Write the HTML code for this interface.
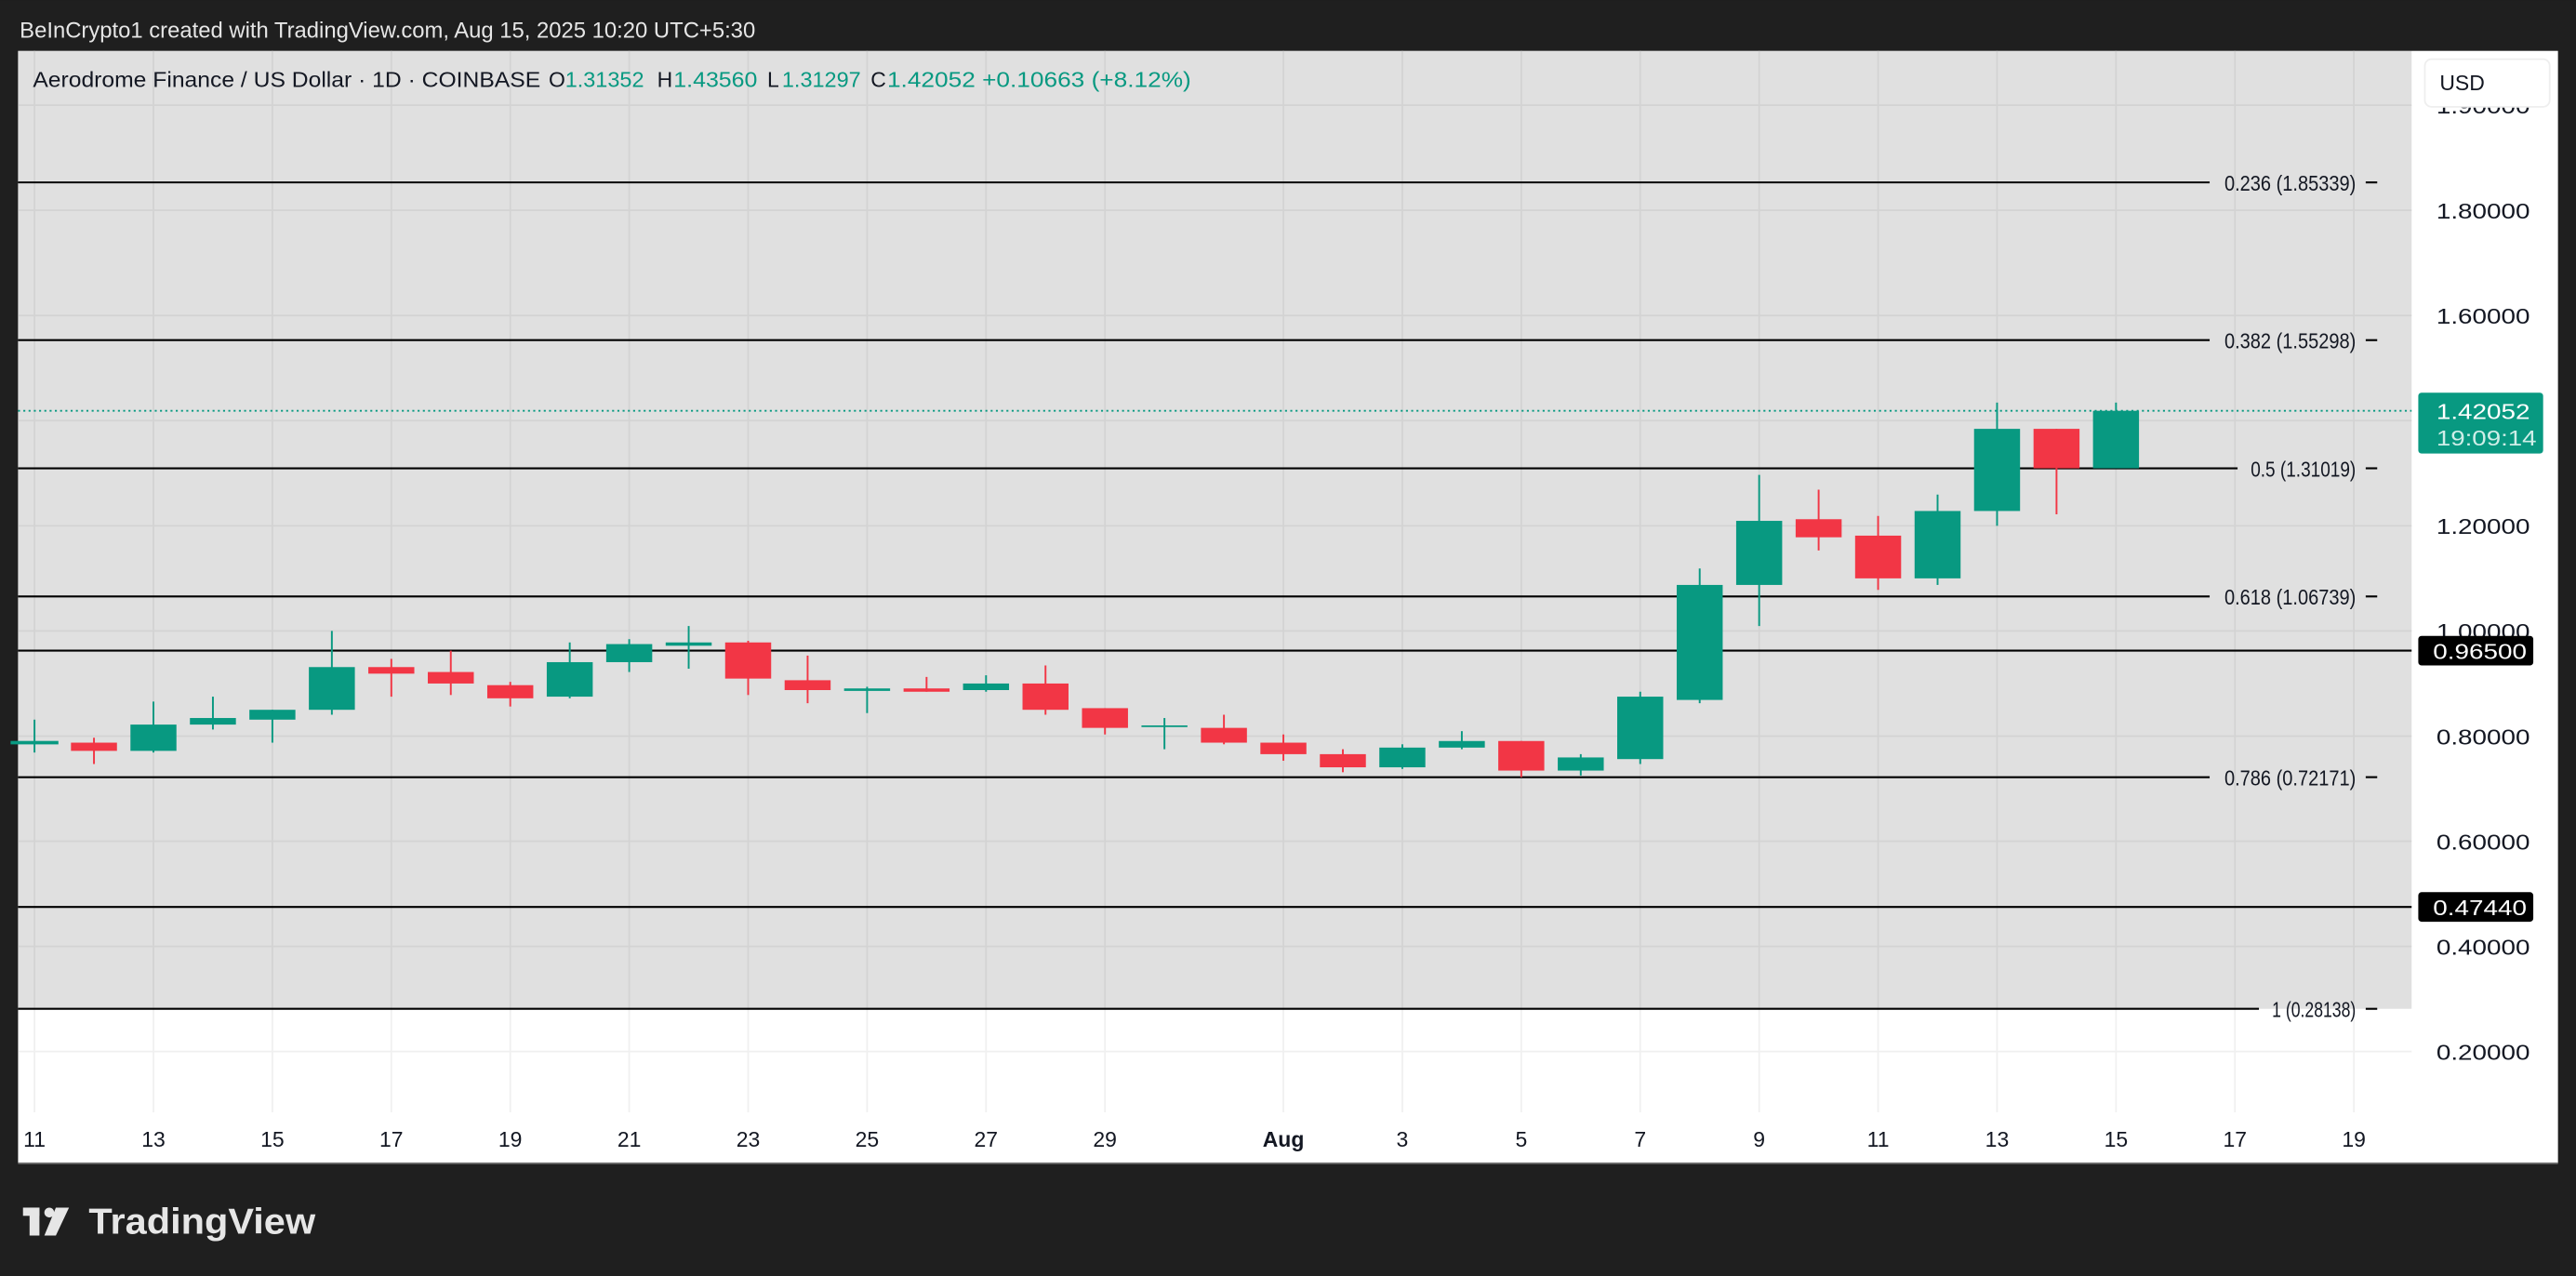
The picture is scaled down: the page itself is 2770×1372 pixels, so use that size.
<!DOCTYPE html>
<html><head><meta charset="utf-8"><style>
html,body{margin:0;padding:0;background:#1f1f1f;}
svg{display:block;}
text{font-family:"Liberation Sans",sans-serif;}
</style></head><body>
<svg width="2770" height="1372" viewBox="0 0 1568 776.6" xmlns="http://www.w3.org/2000/svg">
<rect x="0" y="0" width="1568" height="777" fill="#1f1f1f"/>
<text x="12" y="23" font-size="13.5" fill="#e6e6e6">BeInCrypto1 created with TradingView.com, Aug 15, 2025 10:20 UTC+5:30</text>
<!-- chart -->
<rect x="11" y="31" width="1546" height="677" fill="#ffffff"/>
<rect x="11" y="31" width="1457" height="583" fill="#e0e0e0"/>
<!-- grid -->
<g stroke="#d3d3d3" stroke-width="1">
<line x1="11" y1="128" x2="1468" y2="128"/><line x1="11" y1="192" x2="1468" y2="192"/>
<line x1="11" y1="256" x2="1468" y2="256"/><line x1="11" y1="320" x2="1468" y2="320"/>
<line x1="11" y1="384" x2="1468" y2="384"/><line x1="11" y1="448" x2="1468" y2="448"/>
<line x1="11" y1="512" x2="1468" y2="512"/><line x1="11" y1="576" x2="1468" y2="576"/>
<line x1="11" y1="64" x2="1468" y2="64"/>
</g>
<line x1="11" y1="640" x2="1468" y2="640" stroke="#efefef"/>
<g stroke="#d3d3d3" stroke-width="1">
<line x1="21" y1="31" x2="21" y2="614"/><line x1="93.4" y1="31" x2="93.4" y2="614"/><line x1="165.8" y1="31" x2="165.8" y2="614"/><line x1="238.2" y1="31" x2="238.2" y2="614"/><line x1="310.6" y1="31" x2="310.6" y2="614"/><line x1="383" y1="31" x2="383" y2="614"/><line x1="455.4" y1="31" x2="455.4" y2="614"/><line x1="527.8" y1="31" x2="527.8" y2="614"/><line x1="600.2" y1="31" x2="600.2" y2="614"/><line x1="672.6" y1="31" x2="672.6" y2="614"/><line x1="781.2" y1="31" x2="781.2" y2="614"/><line x1="853.6" y1="31" x2="853.6" y2="614"/><line x1="926" y1="31" x2="926" y2="614"/><line x1="998.4" y1="31" x2="998.4" y2="614"/><line x1="1070.8" y1="31" x2="1070.8" y2="614"/><line x1="1143.2" y1="31" x2="1143.2" y2="614"/><line x1="1215.6" y1="31" x2="1215.6" y2="614"/><line x1="1288" y1="31" x2="1288" y2="614"/><line x1="1360.4" y1="31" x2="1360.4" y2="614"/><line x1="1432.8" y1="31" x2="1432.8" y2="614"/>
</g>
<g stroke="#f0f0f0" stroke-width="1">
<line x1="21" y1="614" x2="21" y2="677"/><line x1="93.4" y1="614" x2="93.4" y2="677"/><line x1="165.8" y1="614" x2="165.8" y2="677"/><line x1="238.2" y1="614" x2="238.2" y2="677"/><line x1="310.6" y1="614" x2="310.6" y2="677"/><line x1="383" y1="614" x2="383" y2="677"/><line x1="455.4" y1="614" x2="455.4" y2="677"/><line x1="527.8" y1="614" x2="527.8" y2="677"/><line x1="600.2" y1="614" x2="600.2" y2="677"/><line x1="672.6" y1="614" x2="672.6" y2="677"/><line x1="781.2" y1="614" x2="781.2" y2="677"/><line x1="853.6" y1="614" x2="853.6" y2="677"/><line x1="926" y1="614" x2="926" y2="677"/><line x1="998.4" y1="614" x2="998.4" y2="677"/><line x1="1070.8" y1="614" x2="1070.8" y2="677"/><line x1="1143.2" y1="614" x2="1143.2" y2="677"/><line x1="1215.6" y1="614" x2="1215.6" y2="677"/><line x1="1288" y1="614" x2="1288" y2="677"/><line x1="1360.4" y1="614" x2="1360.4" y2="677"/><line x1="1432.8" y1="614" x2="1432.8" y2="677"/>
</g>
<!-- fib lines -->
<g stroke="#000" stroke-width="1.2">
<line x1="11" y1="111" x2="1345" y2="111"/><line x1="1440" y1="111" x2="1447" y2="111"/>
<line x1="11" y1="207" x2="1345" y2="207"/><line x1="1440" y1="207" x2="1447" y2="207"/>
<line x1="11" y1="285" x2="1362" y2="285"/><line x1="1440" y1="285" x2="1447" y2="285"/>
<line x1="11" y1="363" x2="1345" y2="363"/><line x1="1440" y1="363" x2="1447" y2="363"/>
<line x1="11" y1="473" x2="1345" y2="473"/><line x1="1440" y1="473" x2="1447" y2="473"/>
<line x1="11" y1="614" x2="1375" y2="614"/><line x1="1440" y1="614" x2="1447" y2="614"/>
<line x1="11" y1="396" x2="1468" y2="396"/>
<line x1="11" y1="552" x2="1468" y2="552"/>
</g>
<g font-size="13" fill="#131722">
<text x="1354" y="116" textLength="80" lengthAdjust="spacingAndGlyphs">0.236 (1.85339)</text>
<text x="1354" y="212" textLength="80" lengthAdjust="spacingAndGlyphs">0.382 (1.55298)</text>
<text x="1370" y="290" textLength="64" lengthAdjust="spacingAndGlyphs">0.5 (1.31019)</text>
<text x="1354" y="368" textLength="80" lengthAdjust="spacingAndGlyphs">0.618 (1.06739)</text>
<text x="1354" y="478" textLength="80" lengthAdjust="spacingAndGlyphs">0.786 (0.72171)</text>
<text x="1383" y="619" textLength="51" lengthAdjust="spacingAndGlyphs">1 (0.28138)</text>
</g>
<line x1="11" y1="250" x2="1468" y2="250" stroke="#089981" stroke-width="1" stroke-dasharray="1.2,2"/>
<!-- candles -->
<g stroke-width="1.1">
<g stroke="#089981" fill="#089981">
<line x1="21" y1="438" x2="21" y2="458"/><rect x="7" y="451.5" width="28" height="1"/>
<line x1="93.4" y1="427" x2="93.4" y2="458"/><rect x="79.4" y="441" width="28" height="16" stroke="none"/>
<line x1="129.6" y1="424" x2="129.6" y2="444"/><rect x="115.6" y="437" width="28" height="4" stroke="none"/>
<line x1="165.8" y1="432" x2="165.8" y2="452"/><rect x="151.8" y="432" width="28" height="6" stroke="none"/>
<line x1="202" y1="384" x2="202" y2="435"/><rect x="188" y="406" width="28" height="26" stroke="none"/>
<line x1="346.8" y1="391" x2="346.8" y2="425"/><rect x="332.8" y="403" width="28" height="21" stroke="none"/>
<line x1="383" y1="389" x2="383" y2="409"/><rect x="369" y="392" width="28" height="11" stroke="none"/>
<line x1="419.2" y1="381" x2="419.2" y2="407"/><rect x="405.2" y="391" width="28" height="2" stroke="none"/>
<line x1="527.8" y1="418" x2="527.8" y2="434"/><rect x="513.8" y="419" width="28" height="1.5" stroke="none"/>
<line x1="600.2" y1="411" x2="600.2" y2="421"/><rect x="586.2" y="416" width="28" height="4" stroke="none"/>
<line x1="708.8" y1="437" x2="708.8" y2="456"/><rect x="694.8" y="441.5" width="28" height="1" stroke="none"/>
<line x1="853.6" y1="453" x2="853.6" y2="468"/><rect x="839.6" y="455" width="28" height="12" stroke="none"/>
<line x1="889.8" y1="445" x2="889.8" y2="456"/><rect x="875.8" y="451" width="28" height="4" stroke="none"/>
<line x1="962.2" y1="459" x2="962.2" y2="472"/><rect x="948.2" y="461" width="28" height="8" stroke="none"/>
<line x1="998.4" y1="421" x2="998.4" y2="465"/><rect x="984.4" y="424" width="28" height="38" stroke="none"/>
<line x1="1034.6" y1="346" x2="1034.6" y2="428"/><rect x="1020.6" y="356" width="28" height="70" stroke="none"/>
<line x1="1070.8" y1="289" x2="1070.8" y2="381"/><rect x="1056.8" y="317" width="28" height="39" stroke="none"/>
<line x1="1179.4" y1="301" x2="1179.4" y2="356"/><rect x="1165.4" y="311" width="28" height="41" stroke="none"/>
<line x1="1215.6" y1="245" x2="1215.6" y2="320"/><rect x="1201.6" y="261" width="28" height="50" stroke="none"/>
<line x1="1288" y1="245" x2="1288" y2="285"/><rect x="1274" y="250" width="28" height="35" stroke="none"/>
</g>
<g stroke="#f23645" fill="#f23645">
<line x1="57.2" y1="449" x2="57.2" y2="465"/><rect x="43.2" y="452" width="28" height="5" stroke="none"/>
<line x1="238.2" y1="401" x2="238.2" y2="424"/><rect x="224.2" y="406" width="28" height="4" stroke="none"/>
<line x1="274.4" y1="396" x2="274.4" y2="423"/><rect x="260.4" y="409" width="28" height="7" stroke="none"/>
<line x1="310.6" y1="415" x2="310.6" y2="430"/><rect x="296.6" y="417" width="28" height="8" stroke="none"/>
<line x1="455.4" y1="390" x2="455.4" y2="423"/><rect x="441.4" y="391" width="28" height="22" stroke="none"/>
<line x1="491.6" y1="399" x2="491.6" y2="428"/><rect x="477.6" y="414" width="28" height="6" stroke="none"/>
<line x1="564" y1="412" x2="564" y2="421"/><rect x="550" y="419" width="28" height="2" stroke="none"/>
<line x1="636.4" y1="405" x2="636.4" y2="435"/><rect x="622.4" y="416" width="28" height="16" stroke="none"/>
<line x1="672.6" y1="431" x2="672.6" y2="447"/><rect x="658.6" y="431" width="28" height="12" stroke="none"/>
<line x1="745" y1="435" x2="745" y2="453"/><rect x="731" y="443" width="28" height="9" stroke="none"/>
<line x1="781.2" y1="447" x2="781.2" y2="463"/><rect x="767.2" y="452" width="28" height="7" stroke="none"/>
<line x1="817.4" y1="456" x2="817.4" y2="470"/><rect x="803.4" y="459" width="28" height="8" stroke="none"/>
<line x1="926" y1="451" x2="926" y2="473"/><rect x="912" y="451" width="28" height="18" stroke="none"/>
<line x1="1107" y1="298" x2="1107" y2="335"/><rect x="1093" y="316" width="28" height="11" stroke="none"/>
<line x1="1143.2" y1="314" x2="1143.2" y2="359"/><rect x="1129.2" y="326" width="28" height="26" stroke="none"/>
<line x1="1251.8" y1="261" x2="1251.8" y2="313"/><rect x="1237.8" y="261" width="28" height="24" stroke="none"/>
</g>
</g>
<!-- legend -->
<g font-size="13">
<text x="20" y="53" fill="#131722" textLength="309" lengthAdjust="spacingAndGlyphs">Aerodrome Finance / US Dollar · 1D · COINBASE</text>
<text x="334" y="53" fill="#131722">O</text><text x="344" y="53" fill="#089981" textLength="48" lengthAdjust="spacingAndGlyphs">1.31352</text>
<text x="400" y="53" fill="#131722">H</text><text x="410" y="53" fill="#089981" textLength="51" lengthAdjust="spacingAndGlyphs">1.43560</text>
<text x="467" y="53" fill="#131722">L</text><text x="476" y="53" fill="#089981" textLength="48" lengthAdjust="spacingAndGlyphs">1.31297</text>
<text x="530" y="53" fill="#131722">C</text><text x="540" y="53" fill="#089981" textLength="185" lengthAdjust="spacingAndGlyphs">1.42052  +0.10663 (+8.12%)</text>
</g>
<!-- price axis -->
<rect x="1468" y="31" width="89" height="677" fill="#ffffff"/>
<g font-size="13" fill="#131722">
<text x="1483" y="69" textLength="57" lengthAdjust="spacingAndGlyphs">1.90000</text>
<text x="1483" y="133" textLength="57" lengthAdjust="spacingAndGlyphs">1.80000</text>
<text x="1483" y="197" textLength="57" lengthAdjust="spacingAndGlyphs">1.60000</text>
<text x="1483" y="325" textLength="57" lengthAdjust="spacingAndGlyphs">1.20000</text>
<text x="1483" y="389" textLength="57" lengthAdjust="spacingAndGlyphs">1.00000</text>
<text x="1483" y="453" textLength="57" lengthAdjust="spacingAndGlyphs">0.80000</text>
<text x="1483" y="517" textLength="57" lengthAdjust="spacingAndGlyphs">0.60000</text>
<text x="1483" y="581" textLength="57" lengthAdjust="spacingAndGlyphs">0.40000</text>
<text x="1483" y="645" textLength="57" lengthAdjust="spacingAndGlyphs">0.20000</text>
</g>
<rect x="1476" y="36" width="76" height="29" rx="4" fill="#fff" stroke="#eeeeee"/>
<text x="1485" y="55" font-size="13" fill="#131722">USD</text>
<rect x="1472" y="239" width="76" height="37" rx="2" fill="#089981"/>
<text x="1483" y="255" font-size="13" fill="#fff" textLength="57" lengthAdjust="spacingAndGlyphs">1.42052</text>
<text x="1483" y="271" font-size="13" fill="#cfeee8" textLength="61" lengthAdjust="spacingAndGlyphs">19:09:14</text>
<rect x="1472" y="387" width="70" height="18" rx="2" fill="#000"/>
<text x="1481" y="401" font-size="13" fill="#fff" textLength="57" lengthAdjust="spacingAndGlyphs">0.96500</text>
<rect x="1472" y="543" width="70" height="18" rx="2" fill="#000"/>
<text x="1481" y="557" font-size="13" fill="#fff" textLength="57" lengthAdjust="spacingAndGlyphs">0.47440</text>
<!-- time axis -->
<g font-size="13" fill="#131722" text-anchor="middle">
<text x="21" y="698">11</text><text x="93.4" y="698">13</text><text x="165.8" y="698">15</text><text x="238.2" y="698">17</text><text x="310.6" y="698">19</text><text x="383" y="698">21</text><text x="455.4" y="698">23</text><text x="527.8" y="698">25</text><text x="600.2" y="698">27</text><text x="672.6" y="698">29</text><text x="781.2" y="698" font-weight="bold">Aug</text><text x="853.6" y="698">3</text><text x="926" y="698">5</text><text x="998.4" y="698">7</text><text x="1070.8" y="698">9</text><text x="1143.2" y="698">11</text><text x="1215.6" y="698">13</text><text x="1288" y="698">15</text><text x="1360.4" y="698">17</text><text x="1432.8" y="698">19</text>
</g>
<line x1="11" y1="708" x2="1557" y2="708" stroke="#777" stroke-width="1"/>
<!-- footer logo -->
<g fill="#e6e6e6">
<rect x="14" y="735" width="10" height="5"/><rect x="18" y="735" width="6" height="17"/>
<circle cx="30" cy="738" r="3"/><polygon points="34,735 42,735 34,752 27,752"/>
</g>
<text x="54" y="751" font-size="22" font-weight="bold" fill="#e6e6e6" textLength="138" lengthAdjust="spacingAndGlyphs">TradingView</text>
</svg>
</body></html>
